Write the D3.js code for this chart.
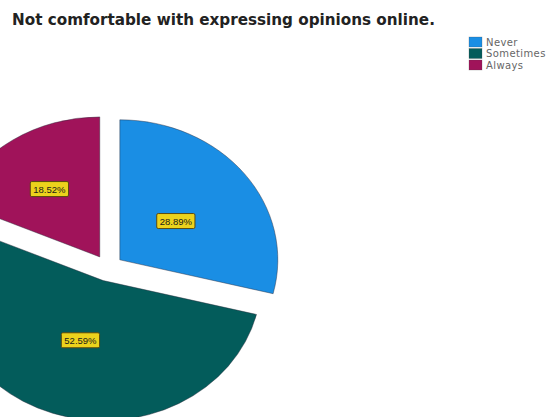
<!DOCTYPE html>
<html>
<head>
<meta charset="utf-8">
<script src="https://cdn.jsdelivr.net/npm/d3@7"></script>
<style>
  html, body { margin: 0; padding: 0; background: #fff; }
  svg { display: block; }
</style>
</head>
<body>
<svg id="chart" width="559" height="417"></svg>
<script>
// Responses to "Not comfortable with expressing opinions online."
const categories = ["Never", "Sometimes", "Always"];
const percents = [28.89, 52.59, 18.52];
const sliceColors = ["#1a8ee4", "#035c5b", "#a0135a"];
const chartTitle = "Not comfortable with expressing opinions online.";

const width = 559, height = 417;
const svg = d3.select("#chart");

svg.append("rect").attr("width", width).attr("height", height).attr("fill", "#fff");

// Pie geometry: horizontally stretched ellipse, every slice pulled out from the centre
const cx = 108, cy = 268;
const R = 158;            // horizontal radius
const ky = 140 / 158;     // vertical squash
const explode = 15;
// narrow slices get their label pushed further out
const labelFrac = p => (p < 20 ? 0.58 : 0.45);

const pie = d3.pie().sort(null).value(d => d)(percents);
const arc = d3.arc().innerRadius(0).outerRadius(R);

const color = d3.scaleOrdinal().domain(categories).range(sliceColors);

const pieG = svg.append("g")
  .attr("transform", `translate(${cx},${cy}) scale(1,${ky})`);

pieG.selectAll("path.slice")
  .data(pie)
  .join("path")
  .attr("class", "slice")
  .attr("d", arc)
  .attr("transform", d => {
    const mid = (d.startAngle + d.endAngle) / 2;
    return `translate(${Math.sin(mid) * explode},${-Math.cos(mid) * explode})`;
  })
  .attr("fill", (d, i) => color(categories[i]))
  .attr("stroke", "#2a2a3a")
  .attr("stroke-opacity", 0.55)
  .attr("stroke-width", 0.8)
  .attr("vector-effect", "non-scaling-stroke");

// Percentage labels in yellow boxes
const fmt = v => v.toFixed(2) + "%";
const labelG = svg.append("g");
pie.forEach((d, i) => {
  const mid = (d.startAngle + d.endAngle) / 2;
  const rr = explode + labelFrac(percents[i]) * R;
  const x = cx + Math.sin(mid) * rr;
  const y = cy - Math.cos(mid) * rr * ky;
  const g = labelG.append("g").attr("transform", `translate(${x},${y})`);
  const t = g.append("text")
    .attr("text-anchor", "middle")
    .attr("dominant-baseline", "central")
    .attr("font-family", "Liberation Sans, Arial, sans-serif")
    .attr("font-size", 9.5)
    .attr("fill", "#1a1a1a")
    .text(fmt(percents[i]));
  const w = t.node().getComputedTextLength();
  g.insert("rect", "text")
    .attr("x", -w / 2 - 3)
    .attr("y", -7.5)
    .attr("width", w + 6)
    .attr("height", 15)
    .attr("rx", 1.5)
    .attr("fill", "#ecd21c")
    .attr("stroke", "#5a4a10")
    .attr("stroke-width", 1);
});

// Title
svg.append("text")
  .attr("x", 12)
  .attr("y", 25)
  .attr("font-family", "DejaVu Sans, Verdana, sans-serif")
  .attr("font-weight", "bold")
  .attr("font-size", 15.2)
  .attr("fill", "#222")
  .text(chartTitle);

// Legend
const legend = svg.append("g").attr("transform", "translate(469,37)");
const rows = legend.selectAll("g")
  .data(categories)
  .join("g")
  .attr("transform", (d, i) => `translate(0,${i * 11.5})`);
rows.append("rect")
  .attr("width", 13)
  .attr("height", 10)
  .attr("fill", d => color(d))
  .attr("stroke", "#444")
  .attr("stroke-opacity", 0.4)
  .attr("stroke-width", 0.6);
rows.append("text")
  .attr("x", 17)
  .attr("y", 5)
  .attr("dominant-baseline", "central")
  .attr("font-family", "DejaVu Sans, Verdana, sans-serif")
  .attr("font-size", 10)
  .attr("letter-spacing", 0.4)
  .attr("fill", "#666")
  .text(d => d);
</script>
</body>
</html>
